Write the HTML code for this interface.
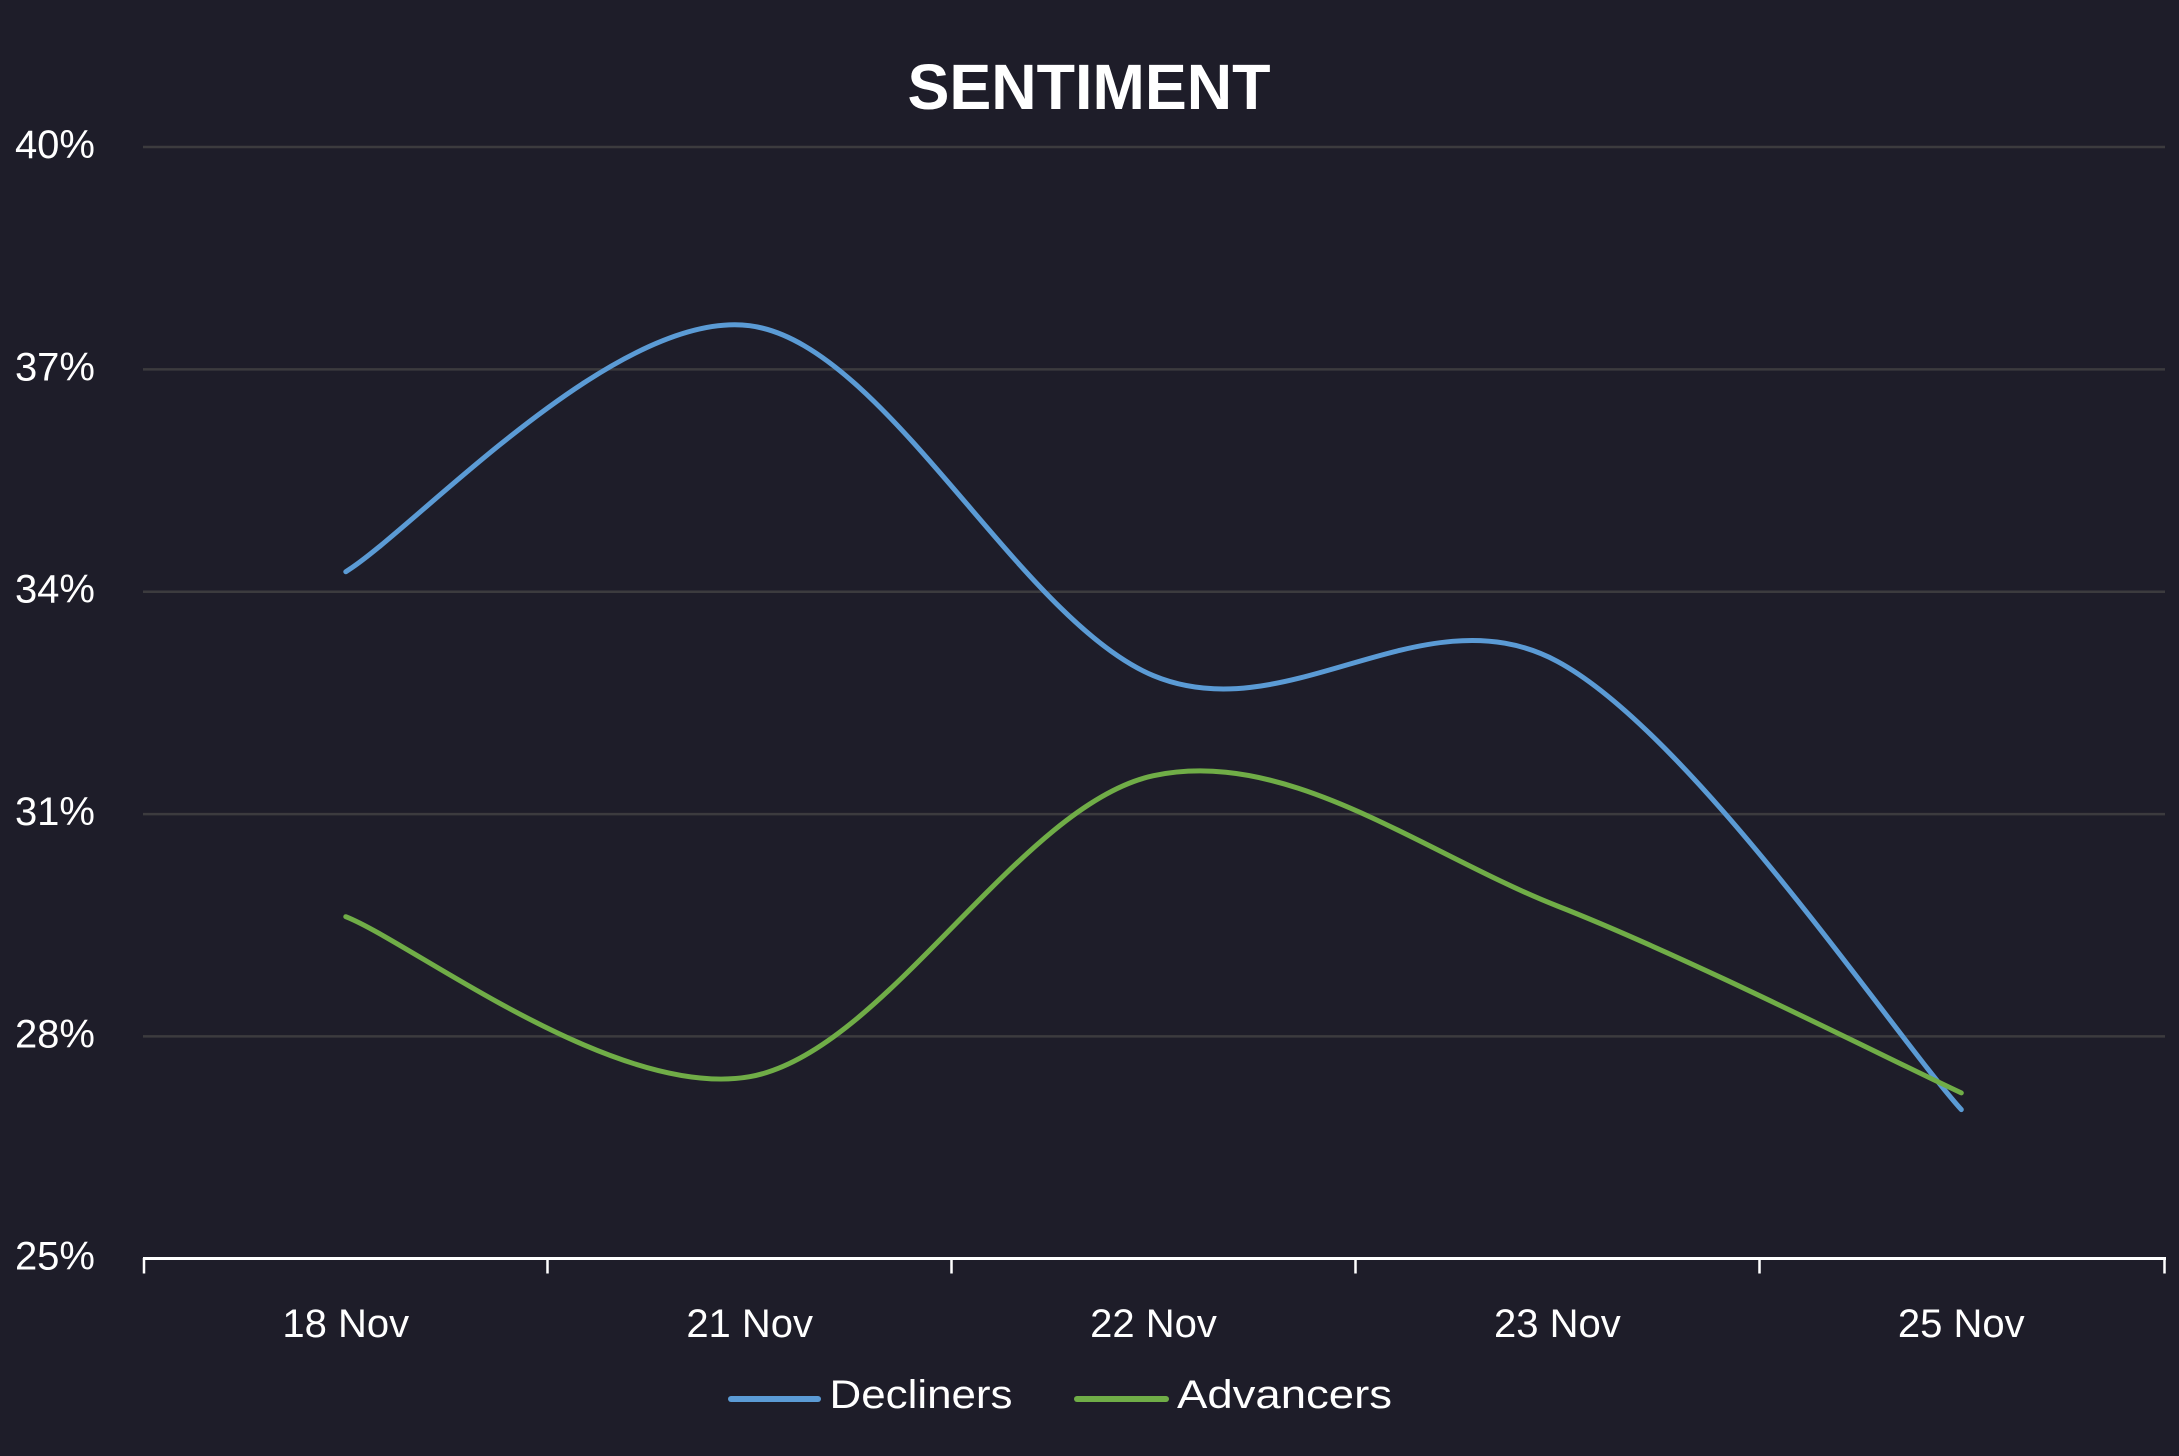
<!DOCTYPE html>
<html>
<head>
<meta charset="utf-8">
<style>
  html, body { margin: 0; padding: 0; background: #1e1d29; }
  svg { display: block; }
  text { font-family: "Liberation Sans", sans-serif; fill: #ffffff; }
</style>
</head>
<body>
<svg width="2179" height="1456" viewBox="0 0 2179 1456" xmlns="http://www.w3.org/2000/svg">
  <rect x="0" y="0" width="2179" height="1456" fill="#1e1d29"/>

  <!-- Title -->
  <text x="1089" y="109" font-size="64" font-weight="bold" text-anchor="middle" textLength="363" lengthAdjust="spacingAndGlyphs">SENTIMENT</text>

  <!-- Gridlines -->
  <g stroke="#3c3b3e" stroke-width="2.5">
    <line x1="143" y1="147" x2="2165" y2="147"/>
    <line x1="143" y1="369.4" x2="2165" y2="369.4"/>
    <line x1="143" y1="591.7" x2="2165" y2="591.7"/>
    <line x1="143" y1="814.1" x2="2165" y2="814.1"/>
    <line x1="143" y1="1036.4" x2="2165" y2="1036.4"/>
  </g>

  <!-- Y labels -->
  <g font-size="40" text-anchor="end">
    <text x="95" y="158">40%</text>
    <text x="95" y="380.4">37%</text>
    <text x="95" y="602.7">34%</text>
    <text x="95" y="825.1">31%</text>
    <text x="95" y="1047.4">28%</text>
    <text x="95" y="1269.7">25%</text>
  </g>

  <!-- X axis -->
  <g stroke="#ffffff">
    <line x1="143" y1="1258.5" x2="2166" y2="1258.5" stroke-width="3"/>
    <line x1="144" y1="1258" x2="144" y2="1273.5" stroke-width="2.5"/>
    <line x1="547.5" y1="1258" x2="547.5" y2="1273.5" stroke-width="2.5"/>
    <line x1="951.5" y1="1258" x2="951.5" y2="1273.5" stroke-width="2.5"/>
    <line x1="1355.5" y1="1258" x2="1355.5" y2="1273.5" stroke-width="2.5"/>
    <line x1="1759.5" y1="1258" x2="1759.5" y2="1273.5" stroke-width="2.5"/>
    <line x1="2164.5" y1="1258" x2="2164.5" y2="1273.5" stroke-width="2.5"/>
  </g>

  <!-- X labels -->
  <g font-size="40" text-anchor="middle">
    <text x="345.8" y="1337">18 Nov</text>
    <text x="749.7" y="1337">21 Nov</text>
    <text x="1153.5" y="1337">22 Nov</text>
    <text x="1557.4" y="1337">23 Nov</text>
    <text x="1961.3" y="1337">25 Nov</text>
  </g>

  <!-- Series: Decliners -->
  <path d="M345.8,571.7 C413.1,530.7 615.1,308.4 749.7,325.7 C884.3,343.0 1018.9,619.75 1153.5,675.7 C1288.1,731.65 1422.8,589.1 1557.4,661.4 C1692.0,733.7 1894.0,1034.9 1961.3,1109.6"
        fill="none" stroke="#5b9bd5" stroke-width="5" stroke-linecap="round" stroke-linejoin="round"/>

  <!-- Series: Advancers -->
  <path d="M345.8,916.7 C413.1,943.37 615.1,1100.2 749.7,1076.7 C884.3,1053.2 1018.9,804.15 1153.5,775.7 C1288.1,747.25 1422.8,853.13 1557.4,906.0 C1692.0,958.87 1894.0,1061.75 1961.3,1092.9"
        fill="none" stroke="#70ad47" stroke-width="5" stroke-linecap="round" stroke-linejoin="round"/>

  <!-- Legend -->
  <line x1="731" y1="1399" x2="818" y2="1399" stroke="#5b9bd5" stroke-width="6" stroke-linecap="round"/>
  <text x="829.5" y="1408" font-size="40" textLength="183" lengthAdjust="spacingAndGlyphs">Decliners</text>
  <line x1="1077" y1="1399" x2="1166" y2="1399" stroke="#70ad47" stroke-width="6" stroke-linecap="round"/>
  <text x="1177" y="1408" font-size="40" textLength="215" lengthAdjust="spacingAndGlyphs">Advancers</text>
</svg>
</body>
</html>
